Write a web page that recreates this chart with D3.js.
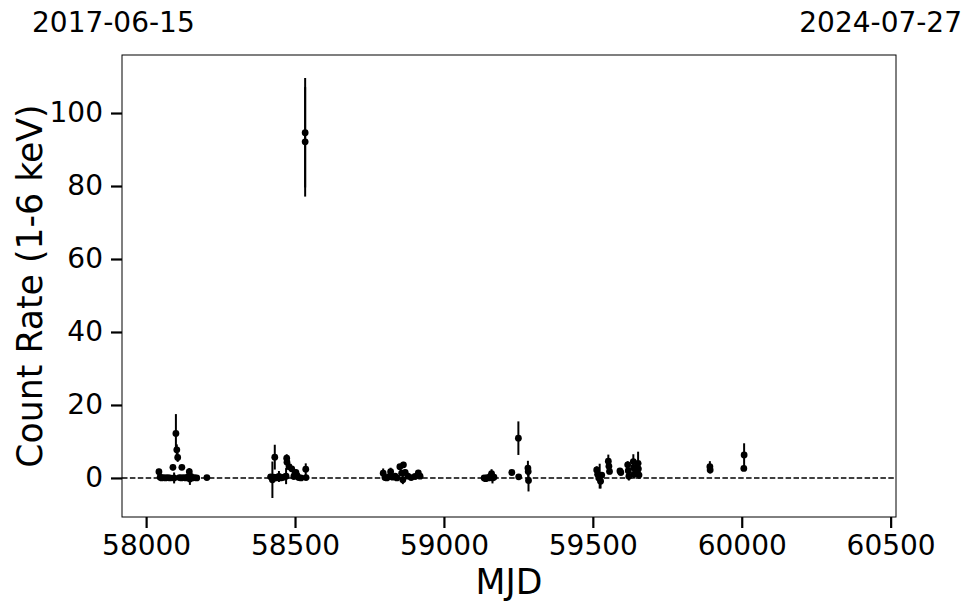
<!DOCTYPE html>
<html><head><meta charset="utf-8">
<script src="https://cdn.jsdelivr.net/npm/d3@7"></script>
<style>body{margin:0;background:#fff}svg{display:block}text{font-family:"DejaVu Sans",sans-serif;fill:#000}</style>
</head><body>
<script>
const mjd = [
 58043,58047,58052,58058,58065,58072,58080,58090,58094,58100,58103,58106,58112,58118,58120,58126,58133,58140,58145,58147,58150,58156,58162,58170,58204,
 58418,58424,58428,58432,58436,58441,58446,58452,58458,58465,58470,58472,58473,58480,58489,58496,58500,58503,58507,58512,58520,58534,58534,58536,58537,
 58796,58802,58808,58815,58821,58828,58836,58842,58852,58858,58862,58864,58870,58879,58890,58903,58914,58920,
 59135,59140,59145,59150,59156,59160,59163,59168,59228,59250,59251,59282,59283,59284,
 59513,59516,59520,59523,59526,59530,59552,59554,59556,59591,59594,59617,59619,59621,59636,59637,59638,59650,59652,59653,59655,
 59893,59894,60007,60008
];
const rate = [
 1.7,0.2,0.0,0.1,0.0,0.1,0.0,2.9,0.0,12.2,7.7,5.6,0.1,0.0,2.9,0.1,0.0,0.2,1.7,-0.3,0.4,0.0,0.1,0.0,0.1,
 0.3,-0.5,0.2,5.7,0.0,0.2,0.4,0.0,0.1,0.3,0.5,5.4,4.3,3.1,2.5,0.4,1.2,1.5,0.6,0.1,0.0,94.6,92.1,2.4,0.1,
 1.3,0.1,0.0,0.3,1.7,0.2,0.5,0.0,3.1,1.3,-0.5,3.6,1.5,0.5,0.1,0.4,1.4,0.5,
 0.0,-0.2,0.1,0.0,0.4,1.2,0.0,0.2,1.5,10.9,0.3,2.7,1.8,-0.7,
 2.2,1.0,0.0,0.5,-0.9,0.8,4.6,3.2,1.8,1.9,1.5,3.6,2.0,0.5,4.5,2.8,1.0,1.5,4.0,2.5,0.8,
 3.1,2.2,2.6,6.3
];
const err = [
 0.8,0.5,0.4,0.4,0.4,0.4,0.5,0.8,1.5,5.3,1.5,1.2,0.5,0.5,0.7,0.5,0.4,0.6,1.0,1.6,0.8,0.5,0.5,0.4,0.4,
 0.5,5.0,0.5,3.4,0.5,0.6,1.5,0.5,0.5,0.6,2.2,1.1,1.0,0.8,0.7,0.6,0.8,0.8,0.6,0.5,0.5,15.0,15.0,1.6,0.5,
 1.3,0.5,0.5,0.6,1.1,0.5,0.6,0.5,0.7,0.8,1.2,0.8,0.8,0.6,0.5,0.6,0.8,0.5,
 0.5,0.6,0.5,0.5,0.6,1.2,1.5,0.5,0.6,4.6,0.6,2.0,1.5,3.0,
 1.0,0.8,1.5,3.4,2.0,0.8,1.8,0.8,0.8,0.8,0.6,1.0,1.5,1.2,2.0,1.5,1.2,0.8,3.2,1.5,1.0,
 1.5,1.0,0.7,3.2
];
const xTicks = [58000,58500,59000,59500,60000,60500];
const yTicks = [0,20,40,60,80,100];
const dateLeft = "2017-06-15", dateRight = "2024-07-27";
const xLabel = "MJD", yLabel = "Count Rate (1-6 keV)";

const W=974,H=613, L=122,R=896,T=55,B=517;
const svg=d3.select("body").append("svg").attr("width",W).attr("height",H);
const x=d3.scaleLinear().domain([57919,60518]).range([L,R]);
const y=d3.scaleLinear().domain([-10.7,115.9]).range([B,T]);

const data=mjd.map((m,i)=>({m,r:rate[i],e:err[i]}));

// zero line
svg.append("line").attr("x1",L).attr("x2",R).attr("y1",y(0)).attr("y2",y(0))
  .attr("stroke","#000").attr("stroke-width",1.5).attr("stroke-dasharray","5.5,2.4");

const g=svg.append("g");
g.selectAll("line.eb").data(data).join("line").attr("class","eb")
 .attr("x1",d=>x(d.m)).attr("x2",d=>x(d.m)).attr("y1",d=>y(d.r-d.e)).attr("y2",d=>y(d.r+d.e))
 .attr("stroke","#000").attr("stroke-width",2);
g.selectAll("circle").data(data).join("circle")
 .attr("cx",d=>x(d.m)).attr("cy",d=>y(d.r)).attr("r",3.4).attr("fill","#000");

// frame
svg.append("rect").attr("x",L).attr("y",T).attr("width",R-L).attr("height",B-T)
 .attr("fill","none").attr("stroke","#000").attr("stroke-width",1);

const xa=svg.append("g").attr("transform",`translate(0,${B})`)
 .call(d3.axisBottom(x).tickValues(xTicks).tickFormat(d3.format("d")).tickSize(11).tickPadding(7));
const ya=svg.append("g").attr("transform",`translate(${L},0)`)
 .call(d3.axisLeft(y).tickValues(yTicks).tickSize(11).tickPadding(8));
[xa,ya].forEach(a=>{a.select(".domain").remove();
 a.selectAll(".tick line").attr("stroke","#000").attr("stroke-width",2.2);
 a.selectAll(".tick text").attr("font-size","28px").attr("font-family","DejaVu Sans");});

svg.append("text").attr("x",(L+R)/2).attr("y",594).attr("text-anchor","middle")
 .attr("font-size","34.7px").text(xLabel);
svg.append("text").attr("transform",`translate(42,${(T+B)/2}) rotate(-90)`).attr("text-anchor","middle")
 .attr("font-size","34.7px").text(yLabel);
svg.append("text").attr("x",32).attr("y",32).attr("font-size","28px").text(dateLeft);
svg.append("text").attr("x",962).attr("y",32).attr("text-anchor","end").attr("font-size","28px").text(dateRight);
</script>
</body></html>
